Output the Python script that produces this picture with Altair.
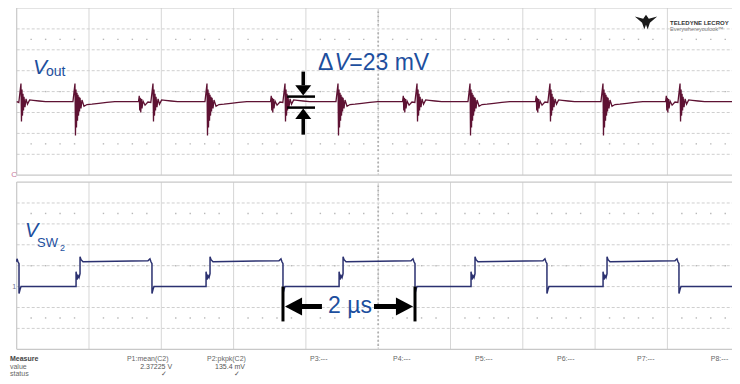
import altair as alt
import pandas as pd

# ---------------- data (units: screen divisions) ----------------
# panel centres on the shared vertical axis
TOP_C, BOT_C = 12.33, 4.0

# Vout ripple: burst times (div) and burst shapes
VOUT_BASE = -0.478
VOUT_RISE_T = [0.806, 2.632, 4.444, 6.270, 8.109, 9.935]
VOUT_FALL_T = [0.059, 1.885, 3.711, 5.537, 7.376, 9.175]
RISE_DX = [-0.028, 0.0, 0.007, 0.014, 0.021, 0.028, 0.035, 0.042, 0.049, 0.056,
           0.063, 0.070, 0.083, 0.097, 0.125, 0.166, 0.235, 0.33, 0.44, 0.55]
RISE_V = [-0.478, 0.383, -2.10, 0.096, -1.72, -0.05, -1.40, -0.15, -1.15, -0.25,
          -0.95, -0.30, -0.80, -0.40, -0.70, -0.62, -0.60, -0.56, -0.52, -0.478]
FALL_DX = [-0.20, -0.19, -0.183, -0.176, -0.169, -0.162, -0.152, -0.138, -0.11,
           -0.07, -0.03, 0.0, 0.007, 0.014, 0.021, 0.028, 0.035, 0.042, 0.055,
           0.07, 0.09, 0.12, 0.17, 0.25, 0.34]
FALL_V = [-0.478, -0.20, -0.90, -0.30, -1.00, -0.35, -0.80, -0.45, -0.65,
          -0.50, -0.52, 0.383, -1.435, 0.096, -1.15, -0.10, -0.90, -0.25, -0.75,
          -0.35, -0.60, -0.40, -0.42, -0.45, -0.478]

# Vsw2 switching node: edge times (div) and edge shapes
VSW_HI = 0.19
VSW_FALL_T = [0.032, 1.871, 3.683, 5.509, 7.334, 9.160]
VSW_RISE_T = [0.876, 2.674, 4.514, 6.339, 8.165, 9.963]
SW_RISE_DX = [-0.069, -0.055, -0.055, -0.041, -0.028, -0.014, 0.0, 0.0, 0.014, 0.041]
SW_RISE_V = [-1.0, -1.0, -0.286, -0.667, -0.476, -0.571, -0.381, 0.43, 0.286, 0.19]
SW_FALL_DX = [-0.055, -0.028, -0.014, 0.0, 0.0, 0.014, 0.028]
SW_FALL_V = [0.24, 0.33, 0.19, 0.095, -1.333, -1.14, -1.0]

# measurement bar
MEAS_HEAD = ["P1:mean(C2)", "P2:pkpk(C2)", "P3:---", "P4:---", "P5:---", "P6:---", "P7:---", "P8:---"]
MEAS_HEAD_X = [1.525, 2.632, 4.057, 5.205, 6.339, 7.473, 8.58, 9.60]
MEAS_VAL = ["2.37225 V", "135.4 mV"]
MEAS_VAL_X = [2.149, 3.158]

# ---------------- build tables ----------------
def burst_table():
    ev = [(t, RISE_DX, RISE_V) for t in VOUT_RISE_T] + [(t, FALL_DX, FALL_V) for t in VOUT_FALL_T]
    ev.sort(key=lambda e: e[0])
    rows = [(0.0, VOUT_BASE)]
    for t, dxs, vs in ev:
        rows += [(t + dx, v) for dx, v in zip(dxs, vs)]
    rows.append((10.0, VOUT_BASE))
    return pd.DataFrame({"x": [r[0] for r in rows], "y": [TOP_C + r[1] for r in rows],
                         "i": range(len(rows))})

def sw_table():
    ev = [(t, SW_RISE_DX, SW_RISE_V) for t in VSW_RISE_T] + [(t, SW_FALL_DX, SW_FALL_V) for t in VSW_FALL_T]
    ev.sort(key=lambda e: e[0])
    rows = [(0.0, VSW_HI)]
    for t, dxs, vs in ev:
        rows += [(t + dx, v) for dx, v in zip(dxs, vs)]
    return pd.DataFrame({"x": [r[0] for r in rows], "y": [BOT_C + r[1] for r in rows],
                         "i": range(len(rows))})

vout = burst_table()
vsw = sw_table()

centres = [TOP_C, BOT_C]
vgrid = pd.DataFrame([{"x": k, "y": c - 4, "y2": c + 4} for c in centres for k in range(1, 10) if k != 5])
vcentre = pd.DataFrame([{"x": 5, "y": c - 4, "y2": c + 4} for c in centres])
hgrid = pd.DataFrame([{"x": 0, "x2": 10, "y": c + k} for c in centres for k in range(-3, 4)])
border_h = pd.DataFrame([{"x": 0, "x2": 10, "y": c + s} for c in centres for s in (-4, 4)])
border_v = pd.DataFrame([{"x": 0, "y": c - 4, "y2": c + 4} for c in centres])
dots = pd.DataFrame([{"x": k / 5, "y": c + r} for c in centres for r in (-2.5, 0, 2.5)
                     for k in range(1, 50) if k % 5])
vdots = pd.DataFrame([{"x": 5, "y": c + k / 5} for c in centres for k in range(-19, 20) if k % 5])

# ---------------- scales ----------------
xs = alt.Scale(domain=[-0.1203, 9.8935], nice=False, zero=False)
ys = alt.Scale(domain=[-1.278, 16.33], nice=False, zero=False)
X = alt.X("x:Q", scale=xs, axis=None)
Y = alt.Y("y:Q", scale=ys, axis=None)

GRID = "#d6d6d6"
BLUE = "#1d4f9e"
FONT = "Liberation Sans"

layers = []
layers.append(alt.Chart(vgrid).mark_rule(color=GRID, strokeWidth=1).encode(x=X, y=Y, y2="y2"))
layers.append(alt.Chart(hgrid).mark_rule(color="#cfcfcf", strokeWidth=1, strokeDash=[3, 2], clip=True)
              .encode(x=X, x2="x2", y=Y))
layers.append(alt.Chart(vcentre).mark_rule(color="#c4c4c4", strokeWidth=1, strokeDash=[2, 2]).encode(x=X, y=Y, y2="y2"))
layers.append(alt.Chart(dots).mark_point(shape="square", size=2, filled=True, color="#b8b8b8", opacity=1)
              .encode(x=X, y=Y))
layers.append(alt.Chart(vdots).mark_point(shape="square", size=3, filled=True, color="#b0b0b0", opacity=1)
              .encode(x=X, y=Y))
layers.append(alt.Chart(border_h).mark_rule(color="#c8c8c8", strokeWidth=1.2, clip=True).encode(x=X, x2="x2", y=Y))
layers.append(alt.Chart(border_v).mark_rule(color="#c8c8c8", strokeWidth=1.2).encode(x=X, y=Y, y2="y2"))

# traces
layers.append(alt.Chart(vout).transform_filter("datum.x >= 0").mark_line(
    color="#5e1233", strokeWidth=1.3, clip=True).encode(x=X, y=Y, order="i:Q"))
layers.append(alt.Chart(vsw).transform_filter("datum.x >= 0").mark_line(
    color="#2b3170", strokeWidth=1.5, clip=True).encode(x=X, y=Y, order="i:Q"))

# ---- ΔV annotation ----
dv_x = 3.963
shafts = pd.DataFrame([
    {"x": dv_x, "y": TOP_C + 0.957, "y2": TOP_C + 0.30},
    {"x": dv_x, "y": TOP_C - 1.30, "y2": TOP_C - 2.06},
])
layers.append(alt.Chart(shafts).mark_rule(color="black", strokeWidth=3.5).encode(x=X, y=Y, y2="y2"))
dv_lines = pd.DataFrame([
    {"x": 3.74, "x2": 4.126, "y": TOP_C - 0.239},
    {"x": 3.74, "x2": 4.126, "y": TOP_C - 0.766},
])
layers.append(alt.Chart(dv_lines).mark_rule(color="black", strokeWidth=2.5).encode(x=X, x2="x2", y=Y))
layers.append(alt.Chart(pd.DataFrame([{"x": dv_x, "y": TOP_C + 0.06}])).mark_point(
    shape="M-1,-0.65L1,-0.65L0,0.65Z", size=256, filled=True, color="black", opacity=1).encode(x=X, y=Y))
layers.append(alt.Chart(pd.DataFrame([{"x": dv_x, "y": TOP_C - 1.06}])).mark_point(
    shape="M-1,0.65L1,0.65L0,-0.65Z", size=256, filled=True, color="black", opacity=1).encode(x=X, y=Y))

# ---- 2 µs annotation ----
bars = pd.DataFrame([
    {"x": 3.683, "y": BOT_C - 1.0, "y2": BOT_C - 2.667},
    {"x": 5.509, "y": BOT_C - 1.0, "y2": BOT_C - 2.667},
])
layers.append(alt.Chart(bars).mark_rule(color="black", strokeWidth=3).encode(x=X, y=Y, y2="y2"))
tshafts = pd.DataFrame([
    {"x": 3.90, "x2": 4.222, "y": BOT_C - 1.952},
    {"x": 4.942, "x2": 5.28, "y": BOT_C - 1.952},
])
layers.append(alt.Chart(tshafts).mark_rule(color="black", strokeWidth=5).encode(x=X, x2="x2", y=Y))
layers.append(alt.Chart(pd.DataFrame([{"x": 3.829, "y": BOT_C - 1.952}])).mark_point(
    shape="M-0.95,0L0.95,-1L0.95,1Z", size=324, filled=True, color="black", opacity=1).encode(x=X, y=Y))
layers.append(alt.Chart(pd.DataFrame([{"x": 5.364, "y": BOT_C - 1.952}])).mark_point(
    shape="M0.95,0L-0.95,-1L-0.95,1Z", size=324, filled=True, color="black", opacity=1).encode(x=X, y=Y))

# ---- text ----
def txt(rows, **kw):
    base = dict(align="left", baseline="alphabetic", font=FONT)
    base.update(kw)
    return alt.Chart(pd.DataFrame(rows)).mark_text(**base).encode(x=X, y=Y, text="t:N")

layers.append(txt([{"x": 0.225, "y": TOP_C + 0.861, "t": "V"}], fontSize=21, fontStyle="italic", color=BLUE))
layers.append(txt([{"x": 0.405, "y": TOP_C + 0.766, "t": "out"}], fontSize=14, color=BLUE))
layers.append(txt([{"x": 4.167, "y": TOP_C + 1.053, "t": "Δ"}], fontSize=23, color=BLUE))
layers.append(txt([{"x": 4.395, "y": TOP_C + 1.053, "t": "V"}], fontSize=23, fontStyle="italic", color=BLUE))
layers.append(txt([{"x": 4.60, "y": TOP_C + 1.053, "t": "=23 mV"}], fontSize=23, color=BLUE))
layers.append(txt([{"x": 0.115, "y": BOT_C + 1.381, "t": "V"}], fontSize=20, fontStyle="italic", color=BLUE))
layers.append(txt([{"x": 0.281, "y": BOT_C + 0.905, "t": "SW"}], fontSize=13, color=BLUE))
layers.append(txt([{"x": 0.60, "y": BOT_C + 0.714, "t": "2"}], fontSize=9, color=BLUE))
layers.append(txt([{"x": 4.306, "y": BOT_C - 2.286, "t": "2 µs"}], fontSize=23, color=BLUE))

# channel markers
layers.append(txt([{"x": -0.075, "y": TOP_C - 4.0, "t": "C"}], fontSize=8, color="#c8799a", baseline="middle"))
layers.append(txt([{"x": -0.06, "y": BOT_C - 1.0, "t": "1"}], fontSize=7, color="#6f7390", baseline="middle"))

# logo
layers.append(alt.Chart(pd.DataFrame([{"x": 8.704, "y": TOP_C + 3.30}])).mark_point(
    shape="M-1,-0.55L-0.25,-0.35L0,-0.7L0.25,-0.35L1,-0.55L0.35,0L0.15,0.6L0,0.2L-0.15,0.6L-0.35,0Z",
    size=500, filled=True, color="#1a1a1a", opacity=1).encode(x=X, y=Y))
layers.append(txt([{"x": 9.036, "y": TOP_C + 3.206, "t": "TELEDYNE LECROY"}], fontSize=6,
                  fontWeight="bold", color="#333333"))
layers.append(txt([{"x": 9.036, "y": TOP_C + 2.919, "t": "Everywhereyoulook™"}], fontSize=5.5, color="#777777"))

# measurement bar
y1, y2r, y3 = -0.464, -0.847, -1.182
layers.append(txt([{"x": -0.093, "y": y1, "t": "Measure"}], fontSize=7, fontWeight="bold",
                  color="#444444", baseline="middle"))
layers.append(txt([{"x": -0.093, "y": y2r, "t": "value"}, {"x": -0.093, "y": y3, "t": "status"}],
                  fontSize=7, color="#666666", baseline="middle"))
layers.append(txt([{"x": xx, "y": y1, "t": tt} for xx, tt in zip(MEAS_HEAD_X, MEAS_HEAD)],
                  fontSize=7, color="#666666", baseline="middle"))
layers.append(txt([{"x": xx, "y": y2r, "t": tt} for xx, tt in zip(MEAS_VAL_X, MEAS_VAL)],
                  fontSize=7, color="#555555", baseline="middle", align="right"))
layers.append(txt([{"x": xx - 0.07, "y": y3, "t": "✓"} for xx in MEAS_VAL_X],
                  fontSize=7, color="#555555", baseline="middle", align="right"))

chart = alt.layer(*layers).properties(
    width=724, height=368, padding=0,
    autosize=alt.AutoSizeParams(type="none"),
    background="white",
).configure_view(stroke=None)

chart.save("out.html", embed_options={"renderer": "svg", "actions": False})
